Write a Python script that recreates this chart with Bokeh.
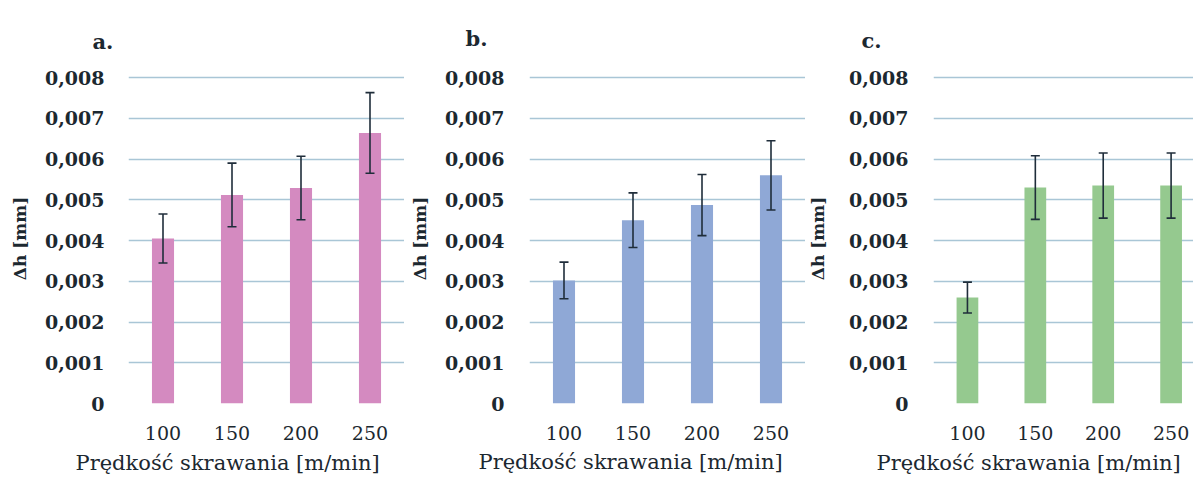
from bokeh.plotting import figure
from bokeh.layouts import row
from bokeh.models import ColumnDataSource, Whisker, TeeHead, Range1d, FixedTicker, Title
from bokeh.embed import file_html
from bokeh.resources import INLINE

categories = ["100", "150", "200", "250"]
y_ticks = [0, 0.001, 0.002, 0.003, 0.004, 0.005, 0.006, 0.007, 0.008]
y_tick_labels = ["0", "0,001", "0,002", "0,003", "0,004", "0,005", "0,006", "0,007", "0,008"]

panel_titles = ["a.", "b.", "c."]
values_a = [0.00405, 0.00512, 0.00529, 0.00664]
errors_a = [0.0006, 0.00078, 0.00078, 0.00099]
values_b = [0.00302, 0.0045, 0.00487, 0.0056]
errors_b = [0.00045, 0.00067, 0.00075, 0.00085]
values_c = [0.0026, 0.0053, 0.00535, 0.00535]
errors_c = [0.00038, 0.00078, 0.0008, 0.0008]

colors = ["#D48AC0", "#8FA8D6", "#95C98F"]
x_axis_title = "Prędkość skrawania [m/min]"
y_axis_title = "Δh [mm]"

SERIF = "DejaVu Serif"
TEXT = "#1c2830"


def make_panel(title, vals, errs, color, width, border_left, border_top, border_bottom,
               x_end, title_offset, title_standoff, xlabel_offset, xlabel_standoff,
               ylabel_standoff, ytick_standoff):
    xs = list(range(len(categories)))
    src = ColumnDataSource(dict(
        x=xs, top=vals,
        upper=[v + e for v, e in zip(vals, errs)],
        lower=[v - e for v, e in zip(vals, errs)],
    ))
    p = figure(width=width, height=483, output_backend="svg", toolbar_location=None,
               x_range=Range1d(-0.5, x_end), y_range=Range1d(0, 0.0081),
               min_border_left=border_left, min_border_right=0,
               min_border_top=border_top, min_border_bottom=border_bottom)
    p.outline_line_color = None
    p.background_fill_color = "white"
    p.border_fill_color = "white"

    p.add_layout(Title(text=title, align="left", vertical_align="top",
                       offset=title_offset, standoff=title_standoff,
                       text_font=SERIF, text_font_size="21px", text_font_style="bold",
                       text_color=TEXT), "above")
    p.add_layout(Title(text=x_axis_title, align="left", offset=xlabel_offset,
                       standoff=xlabel_standoff, text_font=SERIF, text_font_size="21px",
                       text_font_style="normal", text_color=TEXT), "below")

    p.vbar(x="x", top="top", width=0.32, bottom=0, source=src,
           fill_color=color, line_color=None)
    head_kw = dict(size=9, line_color="#1f2d3a", line_width=1.6)
    w = Whisker(base="x", upper="upper", lower="lower", source=src,
                line_color="#1f2d3a", line_width=1.6, level="overlay",
                upper_head=TeeHead(**head_kw), lower_head=TeeHead(**head_kw))
    p.add_layout(w)

    # axes
    p.xaxis.ticker = FixedTicker(ticks=xs)
    p.xaxis.major_label_overrides = {i: c for i, c in zip(xs, categories)}
    p.xaxis.axis_line_color = None
    p.xaxis.major_tick_line_color = None
    p.xaxis.minor_tick_line_color = None
    p.xaxis.major_label_standoff = 16
    p.xaxis.major_label_text_font = SERIF
    p.xaxis.major_label_text_font_size = "19px"
    p.xaxis.major_label_text_color = TEXT

    p.yaxis.ticker = FixedTicker(ticks=y_ticks)
    p.yaxis.major_label_overrides = {t_: l for t_, l in zip(y_ticks, y_tick_labels)}
    p.yaxis.axis_line_color = None
    p.yaxis.major_tick_line_color = None
    p.yaxis.minor_tick_line_color = None
    p.yaxis.major_label_standoff = ytick_standoff
    p.yaxis.major_label_text_font = SERIF
    p.yaxis.major_label_text_font_size = "19px"
    p.yaxis.major_label_text_font_style = "bold"
    p.yaxis.major_label_text_color = TEXT
    p.yaxis.axis_label = y_axis_title
    p.yaxis.axis_label_text_font = SERIF
    p.yaxis.axis_label_text_font_size = "17px"
    p.yaxis.axis_label_text_font_style = "bold"
    p.yaxis.axis_label_text_color = TEXT
    p.yaxis.axis_label_standoff = ylabel_standoff

    p.xgrid.grid_line_color = None
    p.ygrid.grid_line_color = "#A9C6D6"
    p.ygrid.grid_line_width = 1.6
    p.ygrid.ticker = FixedTicker(ticks=y_ticks)
    return p


pa = make_panel(panel_titles[0], values_a, errors_a, colors[0], 404, 128, 68, 80,
                3.5, -36, 36, -53, 13, 12, 18)
pb = make_panel(panel_titles[1], values_b, errors_b, colors[1], 401, 125, 73, 77,
                3.5, -64, 41, -51, 10, 12, 19)
pc = make_panel(panel_titles[2], values_c, errors_c, colors[2], 388, 124, 70, 79,
                3.33, -72, 38, -57, 12, 18, 19)

layout = row(pa, pb, pc, spacing=0)
open("out.html", "w").write(file_html(layout, INLINE))
